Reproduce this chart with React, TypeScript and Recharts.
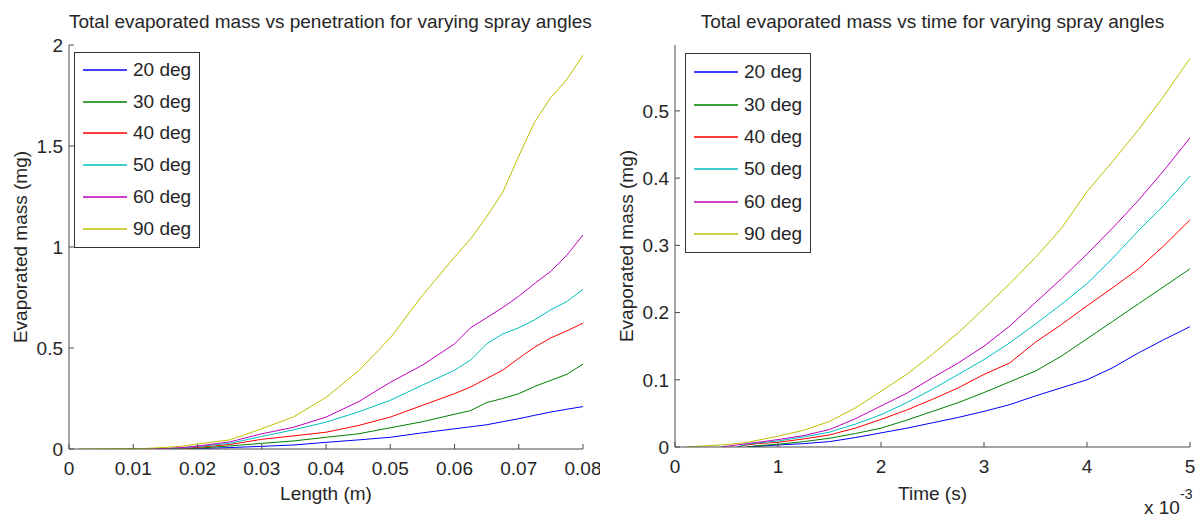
import { LineChart, Line, XAxis, YAxis, Legend } from "recharts";

// ---- left panel: evaporated mass vs penetration length ----
const lengthM = [0.0015, 0.012, 0.015, 0.018, 0.02, 0.025, 0.03, 0.035, 0.04, 0.045, 0.05, 0.055, 0.06, 0.0625, 0.065, 0.0675, 0.07, 0.0725, 0.075, 0.0775, 0.08];
const lenMass20 = [null, null, null, 0, 0.002, 0.007, 0.013, 0.02, 0.033, 0.045, 0.058, 0.08, 0.1, 0.11, 0.12, 0.135, 0.15, 0.167, 0.183, 0.197, 0.21];
const lenMass30 = [null, null, null, 0, 0.004, 0.015, 0.028, 0.04, 0.058, 0.075, 0.105, 0.135, 0.172, 0.19, 0.23, 0.25, 0.274, 0.31, 0.34, 0.37, 0.42];
const lenMass40 = [null, null, 0, 0.004, 0.008, 0.022, 0.048, 0.065, 0.083, 0.116, 0.158, 0.216, 0.274, 0.307, 0.349, 0.39, 0.449, 0.505, 0.55, 0.585, 0.623];
const lenMass50 = [null, null, 0, 0.006, 0.012, 0.028, 0.062, 0.095, 0.133, 0.183, 0.241, 0.316, 0.39, 0.44, 0.52, 0.57, 0.6, 0.64, 0.69, 0.73, 0.79];
const lenMass60 = [null, 0, 0.003, 0.008, 0.015, 0.035, 0.075, 0.108, 0.158, 0.233, 0.33, 0.415, 0.52, 0.6, 0.65, 0.7, 0.756, 0.82, 0.88, 0.96, 1.06];
const lenMass90 = [0, 0.003, 0.008, 0.015, 0.025, 0.045, 0.1, 0.16, 0.255, 0.385, 0.55, 0.76, 0.95, 1.04, 1.15, 1.27, 1.45, 1.62, 1.74, 1.83, 1.95];
const lenTicks = [0, 0.01, 0.02, 0.03, 0.04, 0.05, 0.06, 0.07, 0.08];
const lenMassTicks = [0, 0.5, 1, 1.5, 2];

// ---- right panel: evaporated mass vs time ----
const timeS = [0.0001, 0.00045, 0.0006, 0.0007, 0.0008, 0.001, 0.00125, 0.0015, 0.00175, 0.002, 0.00225, 0.0025, 0.00275, 0.003, 0.00325, 0.0035, 0.00375, 0.004, 0.00425, 0.0045, 0.00475, 0.005];
const timeMass20 = [null, null, null, 0, 0.001, 0.003, 0.005, 0.008, 0.014, 0.021, 0.028, 0.036, 0.044, 0.053, 0.063, 0.076, 0.088, 0.1, 0.118, 0.14, 0.16, 0.179];
const timeMass30 = [null, null, null, 0, 0.002, 0.004, 0.008, 0.013, 0.02, 0.028, 0.04, 0.053, 0.066, 0.081, 0.097, 0.113, 0.135, 0.161, 0.187, 0.213, 0.239, 0.265];
const timeMass40 = [null, null, 0, 0.003, 0.005, 0.007, 0.012, 0.018, 0.028, 0.041, 0.055, 0.071, 0.088, 0.108, 0.125, 0.156, 0.182, 0.21, 0.237, 0.265, 0.3, 0.338];
const timeMass50 = [null, null, 0, 0.004, 0.006, 0.009, 0.015, 0.022, 0.034, 0.048, 0.066, 0.086, 0.108, 0.13, 0.155, 0.183, 0.212, 0.243, 0.281, 0.322, 0.36, 0.403];
const timeMass60 = [null, 0, 0.003, 0.005, 0.007, 0.011, 0.017, 0.026, 0.042, 0.061, 0.08, 0.103, 0.125, 0.15, 0.18, 0.215, 0.25, 0.287, 0.326, 0.367, 0.412, 0.46];
const timeMass90 = [0, 0.003, 0.005, 0.007, 0.01, 0.016, 0.025, 0.038, 0.058, 0.083, 0.108, 0.138, 0.17, 0.206, 0.243, 0.282, 0.325, 0.38, 0.425, 0.472, 0.523, 0.578];
const timeTicks = [0, 0.001, 0.002, 0.003, 0.004, 0.005];
const timeMassTicks = [0, 0.1, 0.2, 0.3, 0.4, 0.5];

const angleNames = ["20 deg", "30 deg", "40 deg", "50 deg", "60 deg", "90 deg"];
const keys = ["a20", "a30", "a40", "a50", "a60", "a90"];
const colors = ["#0000ff", "#008000", "#ff0000", "#00bfbf", "#bf00bf", "#bfbf00"];

const FONT = '"Liberation Sans", Arial, Helvetica, sans-serif';
const INK = "#262626";
const AXIS = "#4a4a4a";

const buildRows = (xs: number[], series: (number | null)[][]) =>
    xs.map((x, i) => {
        const row: Record<string, number | null> = { x };
        keys.forEach((k, j) => (row[k] = series[j][i]));
        return row;
    });

const lenData = buildRows(lengthM, [lenMass20, lenMass30, lenMass40, lenMass50, lenMass60, lenMass90]);
const timeData = buildRows(timeS, [timeMass20, timeMass30, timeMass40, timeMass50, timeMass60, timeMass90]);

const makeLegend = (w: number, h: number, rowH: number, padTop: number) => ({ payload }: any) => (
    <div
        style={{
            width: w,
            height: h,
            boxSizing: "border-box",
            border: "1.5px solid #333",
            background: "#fff",
            paddingTop: padTop,
            fontFamily: FONT,
        }}
    >
        {(payload || []).map((e: any) => (
            <div key={e.value} style={{ height: rowH, display: "flex", alignItems: "center" }}>
                <svg width={52} height={4} style={{ marginLeft: 8 }}>
                    <line x1={0} x2={44} y1={2} y2={2} stroke={e.color} strokeWidth={1.5} />
                </svg>
                <span style={{ fontSize: 19, color: INK, marginLeft: -2 }}>{e.value}</span>
            </div>
        ))}
    </div>
);

const xLabel = (text: string, dy: number) => ({ viewBox }: any) => (
    <text x={viewBox.x + viewBox.width / 2} y={viewBox.y + dy} textAnchor="middle" fontSize={19} fill={INK} fontFamily={FONT}>
        {text}
    </text>
);

const yLabel = (text: string, bx: number) => ({ viewBox }: any) => (
    <text
        transform={`translate(${viewBox.x + bx}, ${viewBox.y + viewBox.height / 2}) rotate(-90)`}
        textAnchor="middle"
        fontSize={19}
        fill={INK}
        fontFamily={FONT}
    >
        {text}
    </text>
);

const noTick = () => <g />;

type PanelProps = {
    data: any[];
    width: number;
    rightMargin: number;
    yAxisWidth: number;
    xAxisHeight: number;
    xDomain: [number, number];
    yDomain: [number, number];
    xTicks: number[];
    yTicks: number[];
    xFmt?: (v: number) => string;
    xLabelText: string;
    yLabelText: string;
    yLabelX: number;
    legend: { left: number; top: number; w: number; h: number; rowH: number; padTop: number };
};

function Panel(p: PanelProps) {
    const tickStyle = { fontSize: 19, fill: INK, fontFamily: FONT };
    return (
        <LineChart width={p.width} height={516} data={p.data} margin={{ top: 45, right: p.rightMargin, bottom: 0, left: 0 }}>
            <XAxis
                xAxisId="b"
                dataKey="x"
                type="number"
                orientation="bottom"
                domain={p.xDomain}
                ticks={p.xTicks}
                tickFormatter={p.xFmt}
                interval={0}
                allowDataOverflow
                height={p.xAxisHeight}
                tickSize={-5}
                tickMargin={18}
                stroke={AXIS}
                tick={tickStyle}
                label={{ content: xLabel(p.xLabelText, 51 + (p.xAxisHeight - 67)) }}
            />
            <XAxis
                xAxisId="t"
                dataKey="x"
                type="number"
                orientation="top"
                domain={p.xDomain}
                ticks={p.xTicks}
                interval={0}
                allowDataOverflow
                height={0}
                tickSize={-5}
                stroke={AXIS}
                tick={noTick}
            />
            <YAxis
                yAxisId="l"
                type="number"
                orientation="left"
                domain={p.yDomain}
                ticks={p.yTicks}
                interval={0}
                allowDataOverflow
                width={p.yAxisWidth}
                tickSize={-5}
                tickMargin={11}
                stroke={AXIS}
                tick={tickStyle}
                label={{ content: yLabel(p.yLabelText, p.yLabelX) }}
            />
            <YAxis
                yAxisId="r"
                type="number"
                orientation="right"
                domain={p.yDomain}
                ticks={p.yTicks}
                interval={0}
                allowDataOverflow
                width={0}
                tickSize={-5}
                stroke={AXIS}
                tick={noTick}
            />
            <Legend
                layout="vertical"
                align="center"
                verticalAlign="middle"
                content={makeLegend(p.legend.w, p.legend.h, p.legend.rowH, p.legend.padTop)}
                wrapperStyle={{ left: p.legend.left, top: p.legend.top, width: p.legend.w, height: p.legend.h }}
            />
            {keys.map((k, i) => (
                <Line
                    key={k}
                    xAxisId="b"
                    yAxisId="l"
                    type="linear"
                    dataKey={k}
                    name={angleNames[i]}
                    stroke={colors[i]}
                    strokeWidth={1}
                    dot={false}
                    isAnimationActive={false}
                />
            ))}
        </LineChart>
    );
}

export default function App() {
    const titleStyle = {
        position: "absolute" as const,
        top: 11,
        textAlign: "center" as const,
        fontSize: 19,
        color: INK,
        fontFamily: FONT,
        whiteSpace: "nowrap" as const,
    };
    return (
        <div style={{ position: "absolute", left: 0, top: 0, width: 1199, height: 516, background: "#fff" }}>
            <div style={{ ...titleStyle, left: 69, width: 514 }}>Total evaporated mass vs penetration for varying spray angles</div>
            <div style={{ ...titleStyle, left: 675, width: 515 }}>Total evaporated mass vs time for varying spray angles</div>
            <div style={{ position: "absolute", left: 0, top: 0 }}>
                <Panel
                    data={lenData}
                    width={600}
                    rightMargin={17}
                    yAxisWidth={69}
                    xAxisHeight={67}
                    xDomain={[0, 0.08]}
                    yDomain={[0, 2]}
                    xTicks={lenTicks}
                    yTicks={lenMassTicks}
                    xLabelText="Length (m)"
                    yLabelText="Evaporated mass (mg)"
                    yLabelX={27}
                    legend={{ left: 74, top: 52, w: 126, h: 196, rowH: 31.8, padTop: 1 }}
                />
            </div>
            <div style={{ position: "absolute", left: 600, top: 0 }}>
                <Panel
                    data={timeData}
                    width={599}
                    rightMargin={9}
                    yAxisWidth={75}
                    xAxisHeight={69}
                    xDomain={[0, 0.005]}
                    yDomain={[0, 0.598]}
                    xTicks={timeTicks}
                    yTicks={timeMassTicks}
                    xFmt={(v: number) => String(Math.round(v * 1000))}
                    xLabelText="Time (s)"
                    yLabelText="Evaporated mass (mg)"
                    yLabelX={33}
                    legend={{ left: 85, top: 53, w: 126, h: 200, rowH: 32.4, padTop: 2 }}
                />
            </div>
            <div style={{ position: "absolute", left: 1144, top: 497, fontSize: 19, color: INK, fontFamily: FONT, whiteSpace: "nowrap" }}>
                x 10
            </div>
            <div style={{ position: "absolute", left: 1180, top: 486, fontSize: 14, color: INK, fontFamily: FONT }}>-3</div>
        </div>
    );
}
